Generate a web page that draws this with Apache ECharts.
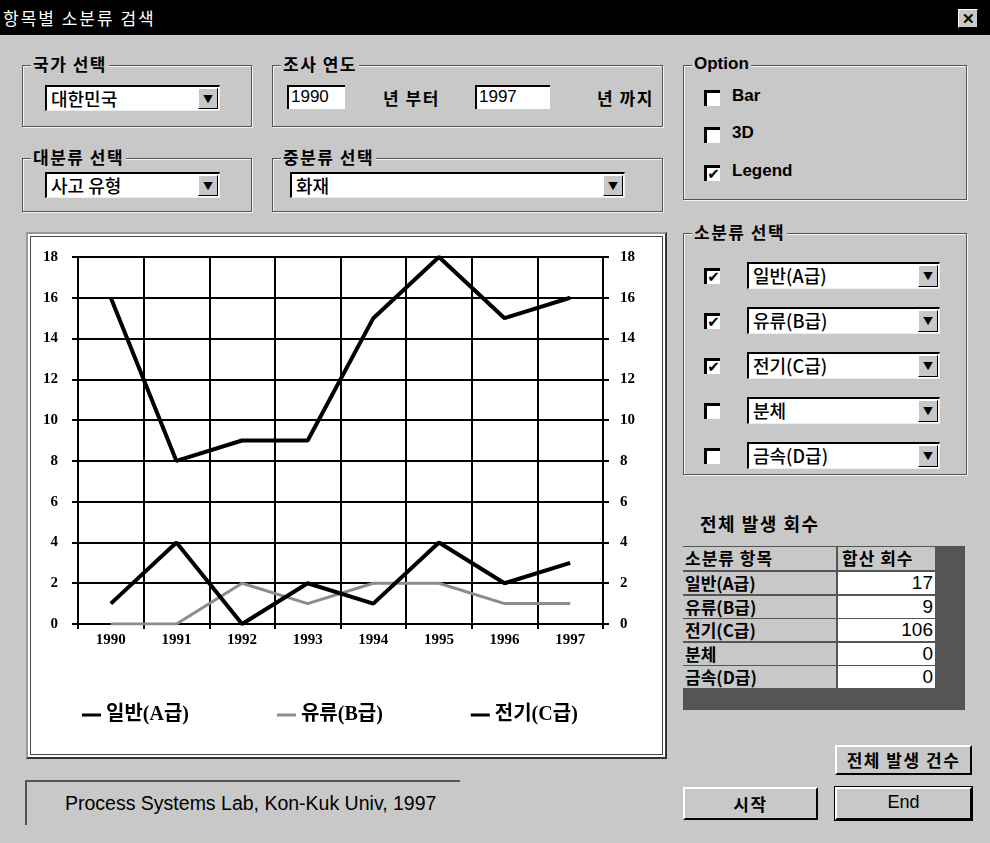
<!DOCTYPE html>
<html><head><meta charset="utf-8">
<script src="https://cdn.jsdelivr.net/npm/echarts@6/dist/echarts.min.js"></script>
<style>
body{margin:0;width:990px;height:843px;overflow:hidden;background:#c8c8c8;font-family:"Noto Sans CJK KR",sans-serif;position:relative;color:#000}
div{box-sizing:border-box}
#title{position:absolute;left:0;top:0;width:990px;height:35px;background:#000;color:#fff;font-size:17px;letter-spacing:2px;line-height:35px;padding-left:3px}
#close{position:absolute;left:958px;top:9px;width:20px;height:19px;background:#c8c8c8;border:1px solid;border-color:#fff #000 #000 #fff;font:bold 15px/17px "Liberation Sans",sans-serif;text-align:center}
.grp{position:absolute;border:1px solid #555;box-shadow:1px 1px 0 #f4f4f4, inset 1px 1px 0 #f4f4f4}
.lbl{position:absolute;left:8px;top:-13px;background:#c8c8c8;padding:0 2px;font-weight:bold;font-size:17px;letter-spacing:1.5px;line-height:22px;white-space:nowrap}
.combo{position:absolute;background:#fff;border-top:2px solid #000;border-left:2px solid #000;border-right:1px solid #eee;border-bottom:1px solid #eee;font-size:18px;line-height:22px;padding-left:4px;white-space:nowrap;font-weight:500}
.combo .arr{position:absolute;right:1px;top:1px;width:20px;bottom:1px;background:#c8c8c8;border:1px solid;border-color:#fff #000 #000 #fff;font-size:10px;line-height:19px;text-align:center;padding:0;font-weight:normal}
.inp{position:absolute;background:#fff;border-top:2px solid #000;border-left:2px solid #000;font:17px/20px "Liberation Sans Narrow","Liberation Sans",sans-serif;padding-left:2px}
.txt{position:absolute;font-weight:bold;font-size:17px;letter-spacing:1.5px;white-space:nowrap}
.chk{position:absolute;width:16px;height:16px;background:#fff;border-top:3px solid #000;border-left:3px solid #000;font:bold 15px/13px "DejaVu Sans",sans-serif;text-align:center}
.btn{position:absolute;background:#c8c8c8;border:2px solid;border-color:#fff #000 #000 #fff;font-weight:bold;font-size:17px;letter-spacing:1.5px;text-align:center}
#frame{position:absolute;left:26px;top:232px;width:641px;height:527px;background:#fff;border:2px solid;border-color:#999 #333 #333 #999;box-shadow:inset 0 0 0 2px #fff, inset 0 0 0 3px #444}
#chart{position:absolute;left:30px;top:237px;width:625px;height:518px}
#tbl{position:absolute;left:683px;top:546px;width:282px;height:164px;background:#555}
.cell{position:absolute;font-size:17px;font-weight:bold;line-height:22px;white-space:nowrap;overflow:hidden}
#status{position:absolute;left:25px;top:780px;width:435px;height:45px;border-top:2px solid #555;border-left:2px solid #555;font:19.5px/42px "Liberation Sans",sans-serif;padding-left:38px;white-space:nowrap}
</style></head>
<body>
<div id="title">항목별 소분류 검색</div>
<div id="close">✕</div>

<div class="grp" style="left:22px;top:65px;width:230px;height:62px"><div class="lbl">국가 선택</div></div>
<div class="grp" style="left:272px;top:65px;width:391px;height:62px"><div class="lbl">조사 연도</div></div>
<div class="grp" style="left:22px;top:158px;width:230px;height:54px"><div class="lbl">대분류 선택</div></div>
<div class="grp" style="left:272px;top:158px;width:391px;height:54px"><div class="lbl">중분류 선택</div></div>
<div class="grp" style="left:683px;top:65px;width:284px;height:135px"><div class="lbl" style="font-family:'Liberation Sans',sans-serif;letter-spacing:0">Option</div></div>
<div class="grp" style="left:683px;top:233px;width:284px;height:242px"><div class="lbl">소분류 선택</div></div>

<div class="combo" style="left:45px;top:85px;width:175px;height:26px">대한민국<div class="arr">▼</div></div>
<div class="combo" style="left:45px;top:172px;width:175px;height:26px">사고 유형<div class="arr">▼</div></div>
<div class="combo" style="left:290px;top:172px;width:335px;height:26px">화재<div class="arr">▼</div></div>
<div class="inp" style="left:287px;top:85px;width:58px;height:24px">1990</div>
<div class="txt" style="left:383px;top:85px">년 부터</div>
<div class="inp" style="left:475px;top:85px;width:75px;height:24px">1997</div>
<div class="txt" style="left:597px;top:85px">년 까지</div>

<div class="chk" style="left:704px;top:90px"></div><div class="txt" style="left:732px;top:86px;font-family:'Liberation Sans',sans-serif;letter-spacing:0">Bar</div>
<div class="chk" style="left:704px;top:127px"></div><div class="txt" style="left:732px;top:123px;font-family:'Liberation Sans',sans-serif;letter-spacing:0">3D</div>
<div class="chk" style="left:704px;top:165px">✔</div><div class="txt" style="left:732px;top:161px;font-family:'Liberation Sans',sans-serif;letter-spacing:0">Legend</div>

<div id="subsel"></div>

<div class="txt" style="left:700px;top:510px;font-size:18px">전체 발생 회수</div>
<div id="tbl"></div>

<div class="btn" style="left:835px;top:745px;width:137px;height:30px;line-height:26px">전체 발생 건수</div>
<div class="btn" style="left:683px;top:787px;width:135px;height:33px;line-height:29px">시작</div>
<div class="btn" style="left:835px;top:787px;width:137px;height:33px;line-height:27px;outline:1px solid #000;font-family:'Liberation Sans',sans-serif;font-weight:normal;font-size:18px;letter-spacing:0">End</div>
<div id="status">Process Systems Lab, Kon-Kuk Univ, 1997</div>

<div id="frame"></div>
<div id="chart"></div>

<script>
// ---- data ----
var years = ['1990','1991','1992','1993','1994','1995','1996','1997'];
var seriesNames = ['일반(A급)','유류(B급)','전기(C급)'];
var gradeA = [1, 4, 0, 2, 1, 4, 2, 3];
var gradeB = [0, 0, 2, 1, 2, 2, 1, 1];
var gradeC = [16, 8, 9, 9, 15, 18, 15, 16];
var subItems = ['일반(A급)','유류(B급)','전기(C급)','분체','금속(D급)'];
var subChecked = [true, true, true, false, false];
var totals = [17, 9, 106, 0, 0];
var yTicks = [0, 18, 2];

// ---- 소분류 선택 rows ----
var sub = document.getElementById('subsel');
var rowTop = [262, 307, 352, 397, 442];
subItems.forEach(function(n, i){
  sub.insertAdjacentHTML('beforeend',
    '<div class="chk" style="left:704px;top:' + (rowTop[i]+6) + 'px">' + (subChecked[i] ? '✔' : '') + '</div>' +
    '<div class="combo" style="left:747px;top:' + rowTop[i] + 'px;width:193px;height:27px">' + n + '<div class="arr">▼</div></div>');
});

// ---- table ----
var tbl = document.getElementById('tbl');
var html = '<div class="cell" style="left:0;top:1px;width:153px;height:23px;background:#c8c8c8;padding-left:2px;letter-spacing:1px">소분류 항목</div>' +
           '<div class="cell" style="left:155px;top:1px;width:97px;height:23px;background:#c8c8c8;padding-left:4px;letter-spacing:1px">합산 회수</div>';
subItems.forEach(function(n, i){
  var t = 26 + i * 23.6;
  html += '<div class="cell" style="left:0;top:' + t + 'px;width:153px;height:22px;background:#c8c8c8;padding-left:2px">' + n + '</div>' +
          '<div class="cell" style="left:155px;top:' + t + 'px;width:97px;height:22px;background:#fff;text-align:right;padding-right:2px;font-family:\'Liberation Sans Narrow\',\'Liberation Sans\',sans-serif;font-weight:normal;font-size:19px">' + totals[i] + '</div>';
});
tbl.innerHTML = html;

// ---- chart ----
var chart = echarts.init(document.getElementById('chart'), null, {renderer:'canvas'});
var axisFont = {fontFamily:'Liberation Serif', fontWeight:'bold', fontSize:15, color:'#000'};
function yAxis(pos, margin){
  return {
    type:'value', position:pos, min:yTicks[0], max:yTicks[1], interval:yTicks[2],
    axisLine:{show:true, lineStyle:{color:'#000', width:2}},
    axisTick:{show:true, inside:false, length:6, lineStyle:{color:'#000', width:2}},
    axisLabel:Object.assign({margin:margin}, axisFont),
    splitLine:{show:pos==='left', lineStyle:{color:'#000', width:2}}
  };
}
chart.setOption({
  animation:false,
  backgroundColor:'transparent',
  grid:{left:48, top:20, width:525, height:367},
  legend:{
    data:seriesNames, left:47, top:463, itemGap:88, icon:'rect', itemWidth:19, itemHeight:3,
    textStyle:{fontFamily:'Liberation Serif, Noto Sans CJK KR', fontWeight:'bold', fontSize:20, color:'#000'}
  },
  xAxis:{
    type:'category', data:years, boundaryGap:true,
    axisLine:{lineStyle:{color:'#000', width:2}},
    axisTick:{show:true, length:5, lineStyle:{color:'#000', width:2}},
    axisLabel:Object.assign({margin:9}, axisFont),
    splitLine:{show:true, lineStyle:{color:'#000', width:2}}
  },
  yAxis:[yAxis('left', 20), yAxis('right', 17)],
  series:[
    {name:seriesNames[0], type:'line', data:gradeA, symbol:'none', lineStyle:{color:'#000', width:4}, itemStyle:{color:'#000'}, z:4},
    {name:seriesNames[1], type:'line', data:gradeB, symbol:'none', lineStyle:{color:'#8c8c8c', width:3}, itemStyle:{color:'#8c8c8c'}, z:3},
    {name:seriesNames[2], type:'line', data:gradeC, symbol:'none', lineStyle:{color:'#000', width:4}, itemStyle:{color:'#000'}, z:4}
  ]
});
</script>
</body></html>
